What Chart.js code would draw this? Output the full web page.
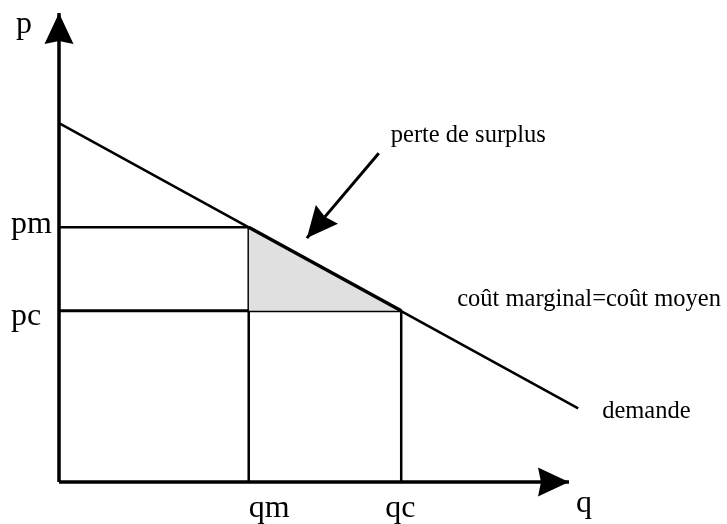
<!DOCTYPE html>
<html>
<head>
<meta charset="utf-8">
<script src="https://cdn.jsdelivr.net/npm/chart.js@4"></script>
<style>
    body { margin: 0; background: #fff; }
    #wrap { width: 727px; height: 524px; position: relative; }
</style>
</head>
<body>
<div id="wrap"><canvas id="diagram"></canvas></div>
<script>
// Quantities and prices (axis units: q 0..10, p 0..10 at the arrow tips)
const quantityLabels = ['qm', 'qc'];
const quantities = [3.72, 6.71];
const priceLabels = ['pm', 'pc'];
const prices = [5.43, 3.65];

// Demand curve end points
const demandQ = [0, 10.18];
const demandP = [7.65, 1.57];

// Arrow pointing at the lost surplus (tail -> tip)
const surplusArrowQ = [6.27, 4.86];
const surplusArrowP = [7.01, 5.20];

// Axis extent
const axisMax = 10;

const serif = '"Liberation Serif", "Times New Roman", serif';

function pts(xs, ys) {
    return xs.map((x, i) => ({ x: x, y: ys[i] }));
}

function line(data, width, extra) {
    return Object.assign({
        data: data,
        borderColor: '#000',
        borderWidth: width,
        pointRadius: 0,
        fill: false,
        tension: 0
    }, extra || {});
}

const qm = quantities[0], qc = quantities[1];
const pm = prices[0], pc = prices[1];

const datasets = [
    // shaded dead weight loss triangle (demand between qm and qc, filled down to pc)
    line(pts([qm, qc], [pm, pc]), 3.5, { fill: { value: pc }, backgroundColor: '#e0e0e0' }),
    line(pts(demandQ, demandP), 2.5),
    line(pts([0, qm], [pm, pm]), 2.5),
    line(pts([0, qc], [pc, pc]), 3),
    line(pts([qm, qm], [pm, 0]), 2.5),
    line(pts([qc, qc], [pc, 0]), 2.5),
    // axes
    line(pts([0, axisMax], [0, 0]), 3.5, { arrow: true }),
    line(pts([0, 0], [0, axisMax]), 3.5, { arrow: true }),
    // annotation arrow
    line(pts(surplusArrowQ, surplusArrowP), 3, { arrow: true })
];

// Draws a filled arrow head at the last point of datasets flagged with arrow: true
const arrowHeads = {
    id: 'arrowHeads',
    afterDatasetsDraw(chart) {
        const ctx = chart.ctx;
        chart.data.datasets.forEach((ds, i) => {
            if (!ds.arrow) return;
            const meta = chart.getDatasetMeta(i);
            const a = meta.data[meta.data.length - 2];
            const b = meta.data[meta.data.length - 1];
            const ang = Math.atan2(b.y - a.y, b.x - a.x);
            const len = 31, half = 14.5, notch = 3;
            ctx.save();
            ctx.translate(b.x, b.y);
            ctx.rotate(ang);
            ctx.beginPath();
            ctx.moveTo(0, 0);
            ctx.lineTo(-len, -half);
            ctx.lineTo(-len + notch, 0);
            ctx.lineTo(-len, half);
            ctx.closePath();
            ctx.fillStyle = '#000';
            ctx.fill();
            ctx.restore();
        });
    }
};

// Axis names, tick names and annotations
const labels = {
    id: 'labels',
    afterDraw(chart) {
        const ctx = chart.ctx;
        const x = chart.scales.x, y = chart.scales.y;
        const x0 = x.getPixelForValue(0), y0 = y.getPixelForValue(0);
        ctx.save();
        ctx.fillStyle = '#000';
        ctx.textBaseline = 'alphabetic';
        ctx.textAlign = 'left';

        ctx.font = '32px ' + serif;
        ctx.fillText('p', x0 - 43, y.getPixelForValue(axisMax) + 20);
        ctx.fillText(priceLabels[0], x0 - 48, y.getPixelForValue(pm) + 6);
        ctx.fillText(priceLabels[1], x0 - 48, y.getPixelForValue(pc) + 14);
        ctx.fillText(quantityLabels[0], x.getPixelForValue(qm) + 0, y0 + 35);
        ctx.fillText(quantityLabels[1], x.getPixelForValue(qc) - 16, y0 + 35);
        ctx.fillText('q', x.getPixelForValue(axisMax) + 7, y0 + 30);

        ctx.font = '24.5px ' + serif;
        ctx.fillText('perte de surplus', x.getPixelForValue(surplusArrowQ[0]) + 12, y.getPixelForValue(surplusArrowP[0]) - 11);
        ctx.fillText('coût marginal=coût moyen', x.getPixelForValue(qc) + 56, y.getPixelForValue(pc) - 5);
        ctx.fillText('demande', x.getPixelForValue(demandQ[1]) + 24, y.getPixelForValue(demandP[1]) + 10);
        ctx.restore();
    }
};

new Chart(document.getElementById('diagram').getContext('2d'), {
    type: 'scatter',
    data: { datasets: datasets },
    options: {
        responsive: true,
        maintainAspectRatio: false,
        animation: false,
        showLine: true,
        clip: false,
        layout: { padding: { left: 59, right: 5, top: 13, bottom: 42 } },
        plugins: { legend: { display: false }, tooltip: { enabled: false } },
        elements: { line: { borderCapStyle: 'butt', borderJoinStyle: 'miter' } },
        scales: {
            x: { type: 'linear', min: 0, max: 13, display: false },
            y: { type: 'linear', min: 0, max: 10, display: false }
        }
    },
    plugins: [arrowHeads, labels]
});
</script>
</body>
</html>
